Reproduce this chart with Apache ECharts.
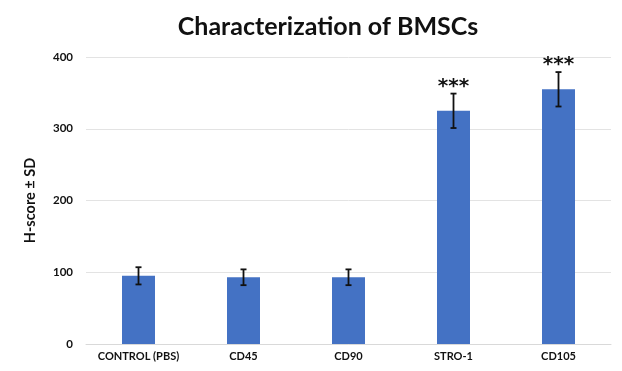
<!DOCTYPE html>
<html>
<head>
<meta charset="utf-8">
<script src="https://cdn.jsdelivr.net/npm/echarts@6/dist/echarts.min.js"></script>
<style>html,body{margin:0;padding:0;background:#fff;}#c{width:622px;height:371px;}</style>
</head>
<body>
<div id="c"></div>
<script>
var categories = ['CONTROL (PBS)', 'CD45', 'CD90', 'STRO-1', 'CD105'];
var means = [95, 93, 93, 325, 355];
var sds = [12, 11, 11, 24, 24];
var marks = ['', '', '', '***', '***'];
var yTicks = [0, 100, 200, 300, 400];

var chart = echarts.init(document.getElementById('c'));
var errData = categories.map(function (c, i) { return [i, means[i] - sds[i], means[i] + sds[i], marks[i]]; });

chart.setOption({
  animation: false,
  title: {
    text: 'Characterization of BMSCs',
    left: 323, top: 9, textAlign: 'center',
    textStyle: { fontFamily: 'Lato', fontWeight: 'bold', fontSize: 25, color: '#111' }
  },
  grid: { left: 86, right: 11, top: 57, bottom: 27 },
  xAxis: {
    type: 'category',
    data: categories,
    axisLine: { show: true, lineStyle: { color: '#d9d9d9' } },
    axisTick: { show: false },
    axisLabel: { interval: 0, fontFamily: 'Lato', fontWeight: 'bold', fontSize: 11, color: '#111', margin: 7 }
  },
  yAxis: {
    type: 'value',
    min: yTicks[0], max: yTicks[yTicks.length - 1], interval: 100,
    name: 'H-score ± SD',
    nameLocation: 'middle',
    nameGap: 48,
    nameTextStyle: { fontFamily: 'Lato', fontWeight: 'bold', fontSize: 14.5, color: '#111' },
    axisLine: { show: false },
    axisTick: { show: false },
    axisLabel: { fontFamily: 'Lato', fontWeight: 'bold', fontSize: 11.5, color: '#111', margin: 13 },
    splitLine: { lineStyle: { color: '#e3e3e3', width: 1 } }
  },
  series: [
    {
      type: 'bar',
      data: means,
      barWidth: 33,
      itemStyle: { color: '#4472C4' }
    },
    {
      type: 'custom',
      data: errData,
      z: 10,
      renderItem: function (params, api) {
        var x = api.value(0);
        var lo = api.coord([x, api.value(1)]);
        var hi = api.coord([x, api.value(2)]);
        var cap = 3;
        var style = { stroke: '#111', lineWidth: 1.8 };
        var children = [
          { type: 'line', shape: { x1: lo[0], y1: lo[1], x2: hi[0], y2: hi[1] }, style: style },
          { type: 'line', shape: { x1: hi[0] - cap, y1: hi[1], x2: hi[0] + cap, y2: hi[1] }, style: style },
          { type: 'line', shape: { x1: lo[0] - cap, y1: lo[1], x2: lo[0] + cap, y2: lo[1] }, style: style }
        ];
        var m = api.value(3);
        if (m) {
          children.push({
            type: 'text',
            style: { text: m, x: hi[0], y: hi[1] + 3, textAlign: 'center', textVerticalAlign: 'bottom',
                     fontFamily: 'DejaVu Sans', fontWeight: 'bold', fontSize: 20, fill: '#111' }
          });
        }
        return { type: 'group', children: children };
      }
    }
  ]
});
</script>
</body>
</html>
